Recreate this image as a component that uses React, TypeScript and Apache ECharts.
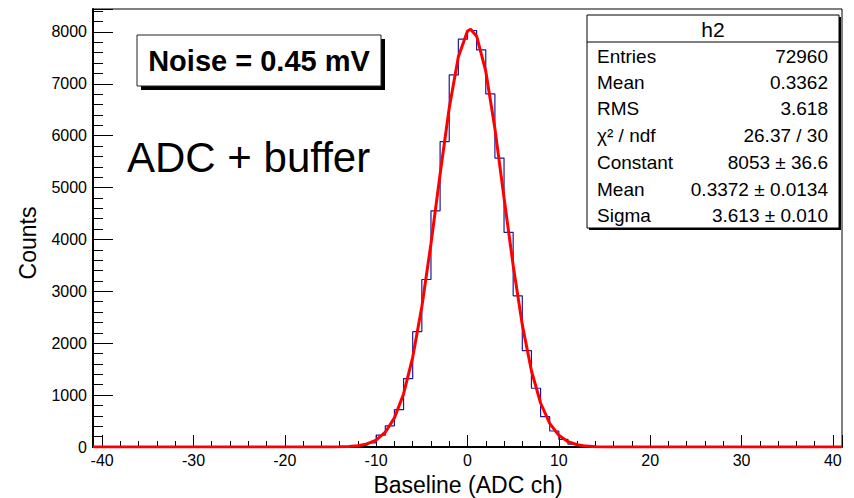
import React, { useEffect, useRef } from "react";
import * as echarts from "echarts";

// Histogram h2: 1-unit bins over [-41, 41]; counts for bins starting at firstBinLeft
const xMin = -41;
const xMax = 41;
const firstBinLeft = -15;
const counts = [
  1, 4, 12, 33, 78, 228, 408, 720, 1318, 2223, 3228, 4552, 5887, 7172, 7860, 8028,
  7654, 6806, 5568, 4136, 2914, 1857, 1132, 584, 308, 148, 55, 22, 8, 3, 1,
];

// Gaussian fit curve (red)
const fitX = [-41, -15, -14, -13, -12, -11, -10, -9, -8, -7, -6, -5, -4, -3, -2, -1, 0, 0.34, 1, 2, 3, 4, 5, 6, 7, 8, 9, 10, 11, 12, 13, 14, 15, 41];
const fitY = [0, 1, 3, 9, 24, 58, 134, 285, 561, 1023, 1728, 2703, 3917, 5256, 6533, 7520, 8018, 8053, 7918, 7243, 6137, 4803, 3500, 2354, 1469, 848, 454, 225, 103, 44, 17, 6, 2, 0];

const yMax = 8442;
const yInterval = 1000;

const statsTitle = "h2";
const statsLabels = ["Entries", "Mean", "RMS", "χ² / ndf", "Constant", "Mean", "Sigma"];
const statsValues = ["72960", "0.3362", "3.618", "26.37 / 30", "8053 ± 36.6", "0.3372 ± 0.0134", "3.613 ± 0.010"];

const noiseLabel = "Noise = 0.45 mV";
const configLabel = "ADC + buffer";
const xTitle = "Baseline (ADC ch)";
const yTitle = "Counts";

const FONT = "Liberation Sans, Arial, Helvetica, sans-serif";

export default function App() {
  const ref = useRef<HTMLDivElement>(null);
  useEffect(() => {
    if (!ref.current) return;
    const chart = echarts.init(ref.current, null, { renderer: "svg" });

    const histData: [number, number][] = [];
    for (let k = xMin; k < xMax; k++) {
      const i = k - firstBinLeft;
      const v = i >= 0 && i < counts.length ? counts[i] : 0;
      histData.push([k, v]);
    }
    histData.push([xMax, 0]);

    const fitData = fitX.map((x, i) => [x, fitY[i]]);

    const statsTop = 15;
    const statsLeft = 587;
    const statsW = 252;
    const statsH = 213;
    const rowYs = [56, 82, 108, 135, 162, 189, 215];

    const graphics: any[] = [
      // noise box
      { type: "rect", z: 100, shape: { x: 141, y: 39, width: 244, height: 51 }, style: { fill: "#000" } },
      { type: "rect", z: 101, shape: { x: 137, y: 35, width: 244, height: 51 }, style: { fill: "#fff", stroke: "#222", lineWidth: 1 } },
      { type: "text", z: 102, x: 259, y: 61, style: { text: noiseLabel, font: `bold 29px ${FONT}`, fill: "#000", align: "center", verticalAlign: "middle" } },
      // config label
      { type: "text", z: 102, x: 127, y: 157, style: { text: configLabel, font: `42px ${FONT}`, fill: "#000", align: "left", verticalAlign: "middle" } },
      // stats box
      { type: "rect", z: 100, shape: { x: statsLeft + 2, y: statsTop + 2, width: statsW, height: statsH }, style: { fill: "#000" } },
      { type: "rect", z: 101, shape: { x: statsLeft, y: statsTop, width: statsW, height: statsH }, style: { fill: "#fff", stroke: "#000", lineWidth: 1 } },
      { type: "line", z: 102, shape: { x1: statsLeft, y1: 42, x2: statsLeft + statsW, y2: 42 }, style: { stroke: "#000", lineWidth: 1 } },
      { type: "text", z: 102, x: statsLeft + statsW / 2, y: 29, style: { text: statsTitle, font: `21px ${FONT}`, fill: "#000", align: "center", verticalAlign: "middle" } },
      // axis titles
      { type: "text", z: 102, x: 468, y: 485, style: { text: xTitle, font: `23px ${FONT}`, fill: "#000", align: "center", verticalAlign: "middle" } },
      { type: "text", z: 102, x: 28, y: 243, rotation: Math.PI / 2, style: { text: yTitle, font: `23px ${FONT}`, fill: "#000", align: "center", verticalAlign: "middle" } },
    ];
    statsLabels.forEach((lab, i) => {
      graphics.push({ type: "text", z: 102, x: statsLeft + 10, y: rowYs[i], style: { text: lab, font: `19px ${FONT}`, fill: "#000", align: "left", verticalAlign: "middle" } });
      graphics.push({ type: "text", z: 102, x: statsLeft + statsW - 11, y: rowYs[i], style: { text: statsValues[i], font: `19px ${FONT}`, fill: "#000", align: "right", verticalAlign: "middle" } });
    });

    chart.setOption({
      animation: false,
      backgroundColor: "#fff",
      grid: { left: 93, right: 12, top: 9, bottom: 51, show: true, borderColor: "#000", borderWidth: 1, backgroundColor: "transparent" },
      xAxis: {
        type: "value",
        min: xMin,
        max: xMax,
        splitNumber: 8,
        showMinLabel: false,
        showMaxLabel: false,
        axisLine: { show: true, onZero: false, lineStyle: { color: "#000", width: 2 } },
        axisTick: { show: true, inside: true, length: 12, lineStyle: { color: "#000", width: 1 } },
        minorTick: { show: true, splitNumber: 5, length: 6, lineStyle: { color: "#000", width: 1 } },
        axisLabel: {
          color: "#000", fontSize: 16, fontFamily: FONT, margin: 5,
          formatter: (v: number) => (v % 10 === 0 ? String(v) : ""),
        },
        splitLine: { show: false },
      },
      yAxis: {
        type: "value",
        min: 0,
        max: yMax,
        interval: yInterval,
        axisLine: { show: true, onZero: false, lineStyle: { color: "#000", width: 2 } },
        axisTick: { show: true, inside: true, length: 20, lineStyle: { color: "#000", width: 1 } },
        minorTick: { show: true, splitNumber: 5, length: 10, lineStyle: { color: "#000", width: 1 } },
        axisLabel: {
          color: "#000", fontSize: 16, fontFamily: FONT, margin: 6,
          formatter: (v: number) => (v % yInterval === 0 ? String(v) : ""),
        },
        splitLine: { show: false },
      },
      series: [
        {
          type: "line",
          name: "h2",
          data: histData,
          step: "end",
          symbol: "none",
          lineStyle: { color: "#1a1a9e", width: 1.2 },
          z: 2,
        },
        {
          type: "line",
          name: "gaus",
          data: fitData,
          symbol: "none",
          lineStyle: { color: "#ff0000", width: 3 },
          z: 3,
        },
      ],
      graphic: graphics,
    });
    return () => chart.dispose();
  }, []);
  return <div ref={ref} style={{ width: 854, height: 498, position: "absolute", left: 0, top: 0 }} />;
}
